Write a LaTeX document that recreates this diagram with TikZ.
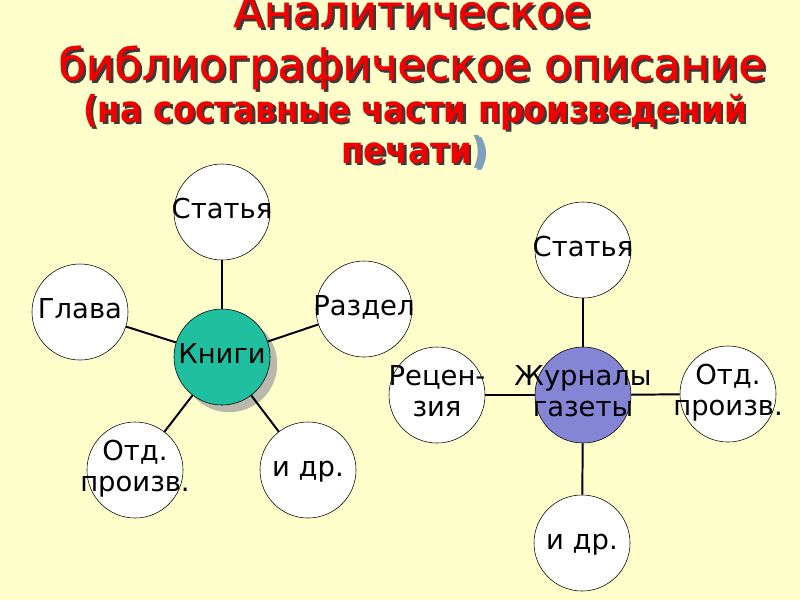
\documentclass[tikz,border=0pt]{standalone}
\usepackage{fontspec}
\setmainfont{DejaVu Sans}
\newfontfamily\headfont[FakeStretch=0.88]{DejaVu Sans}
\newfontfamily\titlefont[FakeBold=1.2]{DejaVu Sans}
\usetikzlibrary{calc,shadows}
\definecolor{bg}{HTML}{FFFFCC}
\definecolor{titlered}{HTML}{F20000}
\definecolor{shade}{HTML}{3A3A3A}
\definecolor{parblue}{HTML}{7F9FBF}
\definecolor{kngreen}{HTML}{1FBF9F}
\definecolor{jrblue}{HTML}{8585D5}
\definecolor{dropgray}{HTML}{B8B8AC}
\newcommand{\lbl}[1]{\raisebox{-0.1cm}{\makebox[0pt]{\begin{tabular}{@{}c@{}}#1\end{tabular}}}}
\newcommand{\shtext}[4]{%
	\node[#3,text=shade,anchor=base] (#1s) at ($(#2)+(2.5,2.5)$) {#4};
	\node[#3,anchor=base] (#1) at (#2) {#4};}

\begin{document}
\begin{tikzpicture}[x=0.025cm,y=-0.025cm,
	every node/.style={font=\fontsize{19.5}{22}\selectfont},
	head/.style={font=\fontsize{31.5}{38}\titlefont\selectfont,text=titlered,inner sep=0pt},
	subhead/.style={font=\fontsize{26.3}{30}\headfont\bfseries\selectfont,text=titlered,inner sep=0pt},
	leaf/.style={circle,draw,thin,fill=white,minimum size=2.4cm,inner sep=0pt},
	link/.style={line width=1.4pt}]
	\fill[bg] (0,0) rectangle (800,600);
	\useasboundingbox (0,0) rectangle (800,600);

	\shtext{t1}{412,27}{head}{Аналитическое}
	\shtext{t2}{412,80}{head}{библиографическое описание}
	\shtext{t3}{415,122}{subhead}{(на составные части произведений}
	\shtext{t4}{414,163}{subhead}{печати\textcolor{parblue}{)}}

	\node[leaf] (st1) at (222,212) {\lbl{Статья}};
	\node[leaf] (gl) at (80,312) {\lbl{Глава}};
	\node[leaf] (rz) at (364,309) {\lbl{Раздел}};
	\node[leaf,fill=kngreen,drop shadow={shadow xshift=0.18cm,shadow yshift=-0.18cm,fill=dropgray,opacity=1}] (kn) at (222,357) {\lbl{Книги}};
	\node[leaf] (ot1) at (135,470) {\lbl{Отд.\\произв.}};
	\node[leaf] (dr1) at (308,470) {\lbl{и др.}};

	\node[leaf] (st2) at (583,250) {\lbl{Статья}};
	\node[leaf,fill=jrblue] (jr) at (583,395) {\lbl{Журналы\\газеты}};
	\node[leaf] (rc) at (437,395) {\lbl{Рецен-\\зия}};
	\node[leaf] (ot2) at (728,394) {\lbl{Отд.\\произв.}};
	\node[leaf] (dr2) at (582,543) {\lbl{и др.}};

	\foreach \n in {st1,gl,rz,ot1,dr1}
		\draw[link] (kn) -- (\n);
	\foreach \n in {st2,rc,ot2,dr2}
		\draw[link] (jr) -- (\n);
\end{tikzpicture}
\end{document}
